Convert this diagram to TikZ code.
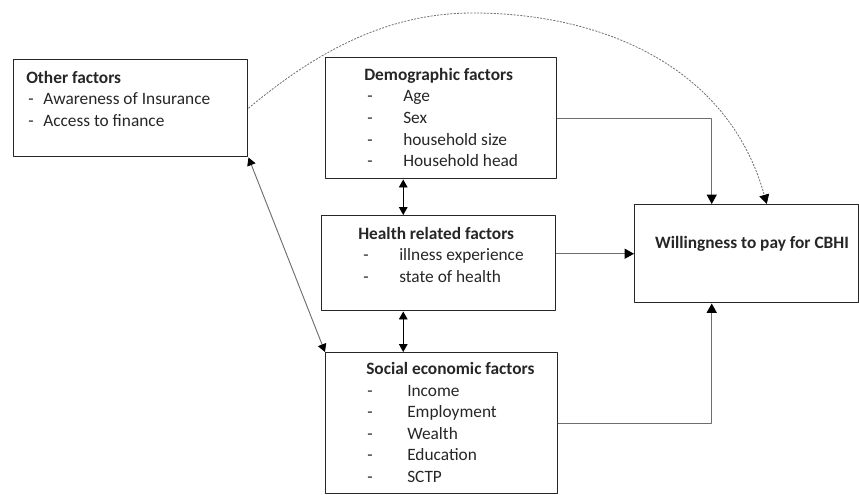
\documentclass[tikz,border=0pt]{standalone}
\usepackage{fontspec}
\setmainfont{Carlito}
\usetikzlibrary{arrows.meta}

\newlength{\px}
\setlength{\px}{0.75pt}
% dash item: indent of the dash, start of the text, text
\newcommand{\dashitem}[3]{\makebox[#2][l]{\hspace*{#1}-}#3}

\definecolor{linkgray}{RGB}{110,110,110}

\tikzset{
  factorbox/.style={draw=black!85, line width=1.1pt, inner sep=0pt, anchor=north west},
  factortext/.style={anchor=north west, inner sep=0pt, align=left,
    text=black!85, font=\fontsize{13}{16.2}\selectfont},
  link/.style={draw=linkgray, line width=0.8pt,
    -{Triangle[length=7pt,width=7.5pt,color=black]}},
  twoway/.style={draw=black, line width=0.7pt,
    {Triangle[length=6pt,width=6.5pt,color=black]}-{Triangle[length=6pt,width=6.5pt,color=black]}},
}

\begin{document}
\begin{tikzpicture}[x=0.75pt, y=-0.75pt, line join=round]
\useasboundingbox (0,0) rectangle (859,494);

% === Boxes ===
\node[factorbox, minimum width=234\px, minimum height=97\px]  (other)  at (13,59)   {};
\node[factorbox, minimum width=231\px, minimum height=121\px] (demo)   at (325,57)  {};
\node[factorbox, minimum width=234\px, minimum height=95\px]  (health) at (321,215) {};
\node[factorbox, minimum width=232\px, minimum height=141\px] (social) at (325,352) {};
\node[factorbox, minimum width=224\px, minimum height=98\px]  (wtp)    at (634,204) {};

% === Box texts ===
\node[factortext] (othertxt) at (26,68) {\textbf{Other factors}\strut\\
  \dashitem{2\px}{17\px}{Awareness of Insurance}\\
  \dashitem{2\px}{17\px}{Access to finance}};
\node[factortext] (demotxt) at (364,65) {\textbf{Demographic factors}\strut\\
  \dashitem{3\px}{39\px}{Age}\\
  \dashitem{3\px}{39\px}{Sex}\\
  \dashitem{3\px}{39\px}{household size}\\
  \dashitem{3\px}{39\px}{Household head}};
\node[factortext] (healthtxt) at (358,224) {\textbf{Health related factors}\strut\\
  \dashitem{5\px}{41\px}{illness experience}\\
  \dashitem{5\px}{41\px}{state of health}};
\node[factortext] (socialtxt) at (366,359) {\textbf{Social economic factors}\strut\\
  \dashitem{1\px}{41\px}{Income}\\
  \dashitem{1\px}{41\px}{Employment}\\
  \dashitem{1\px}{41\px}{Wealth}\\
  \dashitem{1\px}{41\px}{Education}\\
  \dashitem{1\px}{41\px}{SCTP}};
\node[text=black!85, font=\fontsize{13}{15}\selectfont\bfseries] (wtptxt) at (752,244)
  {Willingness to pay for CBHI};

% === Connectors ===
\draw[link] (demo.east) -| ([shift={(-35,0)}]wtp.north);
\draw[link] (health.east |- wtp.west) -- (wtp.west);
\draw[link] (social.east) -| ([shift={(-35,0)}]wtp.south);
\draw[link, line width=0.6pt, dash pattern=on 1.5pt off 1pt]
  (other.east) .. controls (330,40) and (400,13) .. (473,13)
  .. controls (600,13) and (728,65) .. ([shift={(20,0)}]wtp.north);
\draw[twoway] ([shift={(-38,0)}]demo.south) -- ([shift={(-38,0)}]demo.south |- health.north);
\draw[twoway] ([shift={(-38,0)}]demo.south |- health.south) -- ([shift={(-38,0)}]demo.south |- social.north);
\draw[twoway, draw=linkgray] (other.south east) -- (social.north west);
\end{tikzpicture}
\end{document}
